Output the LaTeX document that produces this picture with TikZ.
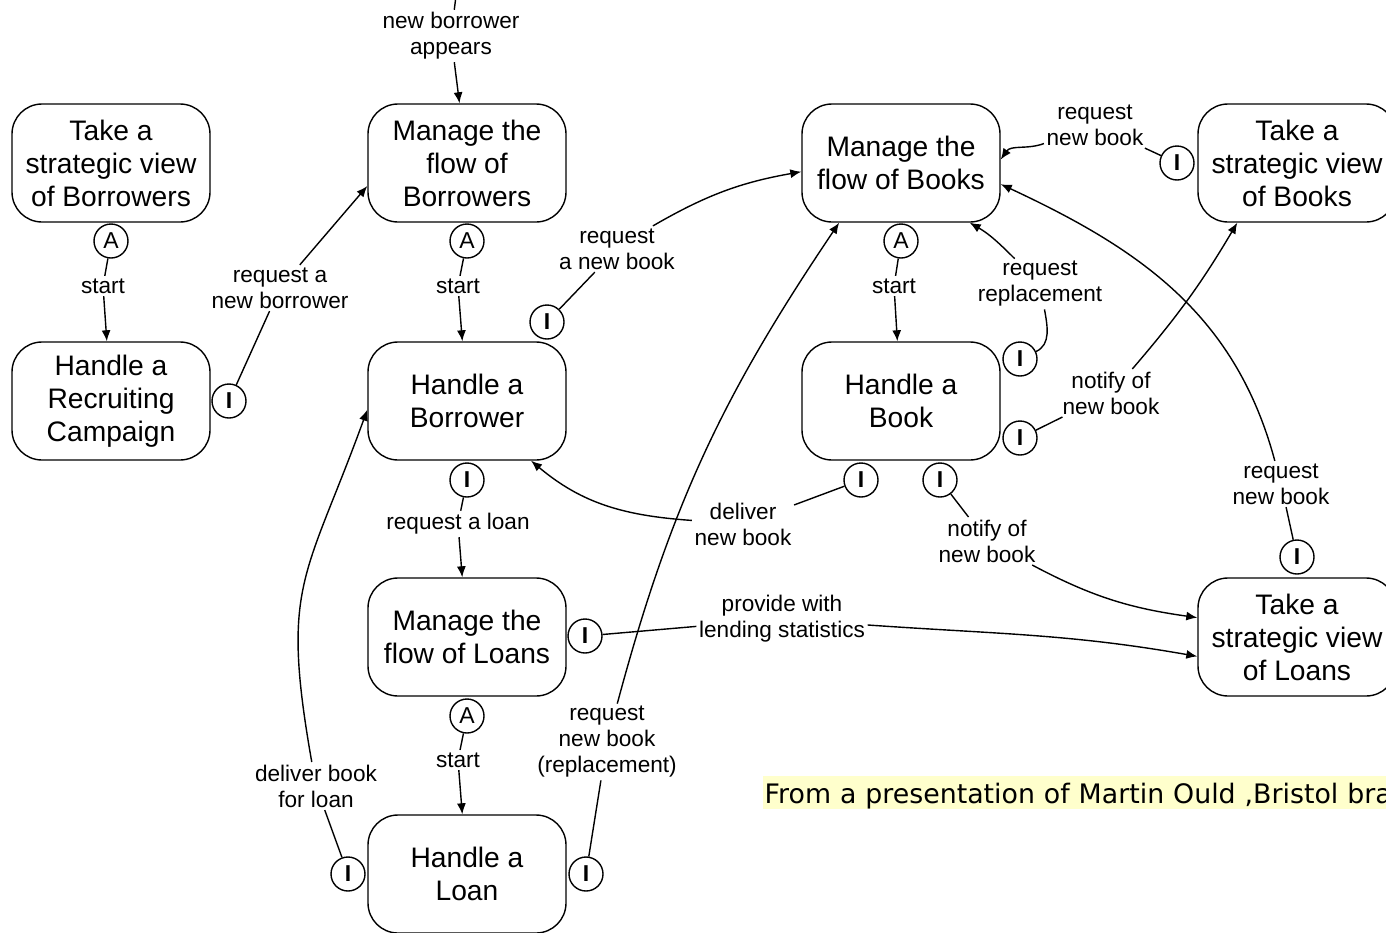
\documentclass[tikz,border=0pt]{standalone}
\usepackage{fontspec}
\setmainfont{Liberation Sans}
\newfontfamily\footfont{DejaVu Sans}
\usetikzlibrary{arrows.meta}
\definecolor{footbg}{HTML}{FFFFCC}

\begin{document}
\begin{tikzpicture}[
  x=0.5pt, y=0.5pt, line width=0.7pt,
  >={Latex[length=5.5pt,width=4.5pt]},
  proc/.style={draw, rounded corners=15pt, minimum width=99pt, minimum height=59pt,
    align=center, inner sep=2pt, font=\fontsize{14.1}{16.5}\selectfont},
  port/.style={draw, circle, minimum size=17pt, inner sep=0pt,
    font=\fontsize{11.5}{13}\selectfont},
  lbl/.style={align=center, inner sep=1pt, font=\fontsize{11.3}{13}\selectfont},
]
  \useasboundingbox (0,0) rectangle (1386,-932);
  \clip (0,0) rectangle (1386,-932);

  % roles
  \node[proc] (stratBor)  at (111,-163)  {Take a\\strategic view\\of Borrowers};
  \node[proc] (mgBor)     at (467,-163)  {Manage the\\flow of\\Borrowers};
  \node[proc] (recruit)   at (111,-401)  {Handle a\\Recruiting\\Campaign};
  \node[proc] (hBor)      at (467,-401)  {Handle a\\Borrower};
  \node[proc] (mgBook)    at (901,-163)  {Manage the\\flow of Books};
  \node[proc] (stratBook) at (1297,-163) {Take a\\strategic view\\of Books};
  \node[proc] (hBook)     at (901,-401)  {Handle a\\Book};
  \node[proc] (mgLoan)    at (467,-637)  {Manage the\\flow of Loans};
  \node[proc] (hLoan)     at (467,-874)  {Handle a\\Loan};
  \node[proc] (stratLoan) at (1297,-637) {Take a\\strategic view\\of Loans};

  % A ports
  \node[port] (aStratBor) at (111,-241) {A};
  \node[port] (aMgBor)    at (467,-241) {A};
  \node[port] (aMgBook)   at (901,-241) {A};
  \node[port] (aMgLoan)   at (467,-716) {A};

  % I ports
  \node[port] (iRecruit)        at (229,-401)  {\textbf{I}};
  \node[port] (iBorBook)        at (547,-322)  {\textbf{I}};
  \node[port] (iBorLoan)        at (467,-480)  {\textbf{I}};
  \node[port] (iLoanStat)       at (585,-636)  {\textbf{I}};
  \node[port] (iLoanDeliver)    at (348,-874)  {\textbf{I}};
  \node[port] (iLoanRepl)       at (586,-874)  {\textbf{I}};
  \node[port] (iBookRepl)       at (1020,-359) {\textbf{I}};
  \node[port] (iBookNotify)     at (1020,-438) {\textbf{I}};
  \node[port] (iBookDeliver)    at (861,-480)  {\textbf{I}};
  \node[port] (iBookNotifyLoan) at (940,-480)  {\textbf{I}};
  \node[port] (iStratBook)      at (1177,-163) {\textbf{I}};
  \node[port] (iStratLoan)      at (1297,-557) {\textbf{I}};

  % labels
  \node[lbl] (lStart1) at (103,-286) {start};
  \node[lbl] (lStart2) at (458,-286) {start};
  \node[lbl] (lStart3) at (894,-286) {start};
  \node[lbl] (lStart4) at (458,-760) {start};
  \node[lbl] (lAppear)       at (451,-36)   {new borrower\\appears};
  \node[lbl] (lReqBor)       at (280,-288)  {request a\\new borrower};
  \node[lbl] (lReqBook)      at (617,-249)  {request\\a new book};
  \node[lbl] (lReqLoan)      at (458,-524)  {request a loan};
  \node[lbl] (lDeliver)      at (743,-524)  {deliver\\new book};
  \node[lbl] (lStat)         at (782,-619)  {provide with\\lending statistics};
  \node[lbl] (lNotifyLoan)   at (987,-541)  {notify of\\new book};
  \node[lbl] (lRepl)         at (1040,-284) {request\\replacement};
  \node[lbl] (lNotifyBook)   at (1111,-393) {notify of\\new book};
  \node[lbl] (lReqBookLoan)  at (1281,-484) {request\\new book};
  \node[lbl] (lReqBookStrat) at (1095,-125) {request\\new book};
  \node[lbl] (lDeliverLoan)  at (316,-786)  {deliver book\\for loan};
  \node[lbl] (lReqRepl)      at (607,-742)  {request\\new book\\(replacement)};

  % source of the top link, above the visible area
  \coordinate (topSrc) at (458,20);

  % start links
  \foreach \a/\s/\b in {aStratBor/lStart1/recruit, aMgBor/lStart2/hBor,
                        aMgBook/lStart3/hBook, aMgLoan/lStart4/hLoan} {
    \draw (\a) -- (\s);
    \draw[->] (\s) -- (\b);
  }

  % interactions
  \draw (topSrc) -- (lAppear);
  \draw[->] (lAppear) -- (mgBor);
  \draw (iRecruit) -- (lReqBor);
  \draw[->] (lReqBor) -- (mgBor.193);
  \draw (iBorBook) -- (lReqBook);
  \draw[->] (lReqBook) to[bend left=10] (mgBook.185);
  \draw (iBorLoan) -- (lReqLoan);
  \draw[->] (lReqLoan) -- (mgLoan);
  \draw (iBookDeliver) -- (lDeliver);
  \draw[->] (lDeliver) to[out=176,in=-40] (hBor.-43);
  \draw (iLoanStat) -- (lStat);
  \draw[->] (lStat) to[out=-4,in=170] (stratLoan.191);
  \draw (iBookNotifyLoan) -- (lNotifyLoan);
  \draw[->] (lNotifyLoan) to[out=-28,in=172] (stratLoan.169);
  \draw (iBookRepl) to[out=25,in=-80] (lRepl);
  \draw[->] (lRepl) to[out=135,in=-30] (mgBook.-41);
  \draw (iBookNotify) -- (lNotifyBook);
  \draw[->] (lNotifyBook) to[bend right=5] (stratBook.-135);
  \draw (iStratLoan) -- (lReqBookLoan);
  \draw[->] (lReqBookLoan) to[out=105,in=-25] (mgBook.-12);
  \draw (iStratBook) -- (lReqBookStrat);
  \draw[->] (lReqBookStrat) to[out=200,in=55] (mgBook.2);
  \draw (iLoanDeliver) -- (lDeliverLoan);
  \draw[->] (lDeliverLoan) to[out=100,in=-110,looseness=1.3] (hBor.185);
  \draw (iLoanRepl) -- (lReqRepl);
  \draw[->] (lReqRepl) to[out=75,in=-124] (mgBook.-136);

  % source note
  \node[anchor=north west, fill=footbg, inner xsep=1pt, inner ysep=0pt,
        text width=340pt, align=left, text height=14pt, text depth=2.5pt,
        font=\footfont\fontsize{13.4}{16}\selectfont] (foot) at (762,-775)
    {From a presentation of Martin Ould ,Bristol bra};
\end{tikzpicture}
\end{document}
